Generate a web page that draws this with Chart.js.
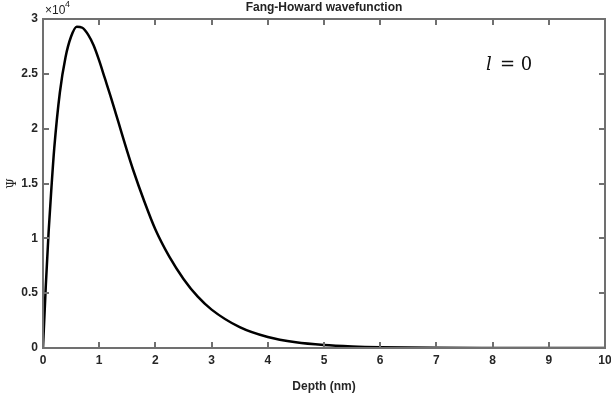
<!DOCTYPE html>
<html>
<head>
<meta charset="utf-8">
<script src="https://cdn.jsdelivr.net/npm/chart.js@4"></script>
<style>
  html, body { margin: 0; padding: 0; background: #fff; }
  #wrap { width: 611px; height: 394px; }
</style>
</head>
<body>
<div id="wrap"><canvas id="fh"></canvas></div>
<script>
// Depth (nm) and wavefunction values
const depth = [0, 0.05, 0.1, 0.15, 0.2, 0.3, 0.4, 0.5, 0.6, 0.7, 0.8, 0.9, 1.0, 1.1, 1.2, 1.3, 1.4, 1.5, 1.6, 1.8,
  2.0, 2.25, 2.5, 2.75, 3.0, 3.5, 4.0, 4.5, 5.0, 5.5, 6, 7, 8, 9, 10];
const psi = [0, 5700, 10600, 14600, 18200, 23300, 26500, 28400, 29300, 29200, 28600, 27600, 26200, 24600, 23000, 21300, 19600, 17900, 16300, 13400,
  10800, 8300, 6300, 4700, 3500, 1900, 1000, 520, 270, 140, 70, 15, 3, 1, 0];
const xTicks = [0, 1, 2, 3, 4, 5, 6, 7, 8, 9, 10];
const yTicks = [0, 0.5, 1, 1.5, 2, 2.5, 3]; // x 10^4

const axisGray = '#707070';
const labelFont = { family: 'Liberation Sans, Arial, sans-serif', size: 12, weight: 'bold' };

// box + inward ticks on all four sides, plus title and annotations
const boxPlugin = {
  id: 'box',
  afterDraw(chart) {
    const { ctx, chartArea: a, scales } = chart;
    const L = Math.round(a.left), R = Math.round(a.right), T = Math.round(a.top), B = Math.round(a.bottom);
    ctx.save();
    ctx.fillStyle = axisGray;
    ctx.fillRect(L - 1, T, 2, B - T + 1);      // left
    ctx.fillRect(R - 1, T, 2, B - T + 1);      // right
    ctx.fillRect(L - 1, T - 1, R - L + 2, 2);  // top
    ctx.fillRect(L - 1, B - 1, R - L + 2, 2);  // bottom
    scales.x.ticks.forEach((t, i) => {
      const px = Math.round(scales.x.getPixelForTick(i));
      ctx.fillRect(px - 1, B - 6, 2, 6);
      ctx.fillRect(px - 1, T, 2, 6);
    });
    scales.y.ticks.forEach((t, i) => {
      const py = Math.round(scales.y.getPixelForTick(i));
      ctx.fillRect(L, py - 1, 6, 2);
      ctx.fillRect(R - 6, py - 1, 6, 2);
    });

    // title
    ctx.fillStyle = '#222';
    ctx.font = 'bold 12px "Liberation Sans", Arial, sans-serif';
    ctx.textAlign = 'center';
    ctx.textBaseline = 'middle';
    ctx.fillText('Fang-Howard wavefunction', (a.left + a.right) / 2, 8);

    // exponent
    ctx.textAlign = 'left';
    ctx.font = '12px "Liberation Sans", Arial, sans-serif';
    ctx.fillText('\u00d710', a.left + 2, 11);
    ctx.font = '9px "Liberation Sans", Arial, sans-serif';
    ctx.fillText('4', a.left + 22, 5);

    // l = 0
    ctx.fillStyle = '#111';
    ctx.textBaseline = 'alphabetic';
    ctx.font = 'italic 18px "DejaVu Serif", serif';
    ctx.fillText('l', 486, 70);
    ctx.font = '18px "DejaVu Serif", serif';
    ctx.fillText('= 0', 500, 70);
    ctx.restore();
  }
};

new Chart(document.getElementById('fh'), {
  type: 'scatter',
  data: {
    datasets: [{
      data: depth.map((d, i) => ({ x: d, y: psi[i] })),
      showLine: true,
      borderColor: '#000',
      borderWidth: 2.5,
      pointRadius: 0,
      cubicInterpolationMode: 'monotone'
    }]
  },
  options: {
    responsive: true,
    maintainAspectRatio: false,
    animation: false,
    layout: { padding: { top: 19, right: 6, bottom: 0, left: 0 } },
    plugins: { legend: { display: false }, tooltip: { enabled: false } },
    scales: {
      x: {
        type: 'linear', min: 0, max: 10,
        afterBuildTicks: s => { s.ticks = xTicks.map(v => ({ value: v })); },
        afterFit: s => { s.height = 46; s.paddingLeft = 0; s.paddingRight = 0; },
        grid: { display: false, drawTicks: false },
        border: { display: false },
        ticks: { font: labelFont, color: '#262626', padding: 5, maxRotation: 0 },
        title: { display: true, text: 'Depth (nm)', font: labelFont, color: '#262626', padding: { top: 18, bottom: 0 } }
      },
      y: {
        type: 'linear', min: 0, max: 30000,
        afterBuildTicks: s => { s.ticks = yTicks.map(v => ({ value: v * 10000 })); },
        afterFit: s => { s.width = 43; s.paddingTop = 0; s.paddingBottom = 0; },
        grid: { display: false, drawTicks: false },
        border: { display: false },
        ticks: { font: labelFont, color: '#262626', padding: 5, callback: v => String(v / 10000) },
        title: { display: true, text: '\u03a8', font: { family: 'DejaVu Serif, serif', size: 12 }, color: '#262626', padding: { top: 6, bottom: 0 } }
      }
    }
  },
  plugins: [boxPlugin]
});
</script>
</body>
</html>
